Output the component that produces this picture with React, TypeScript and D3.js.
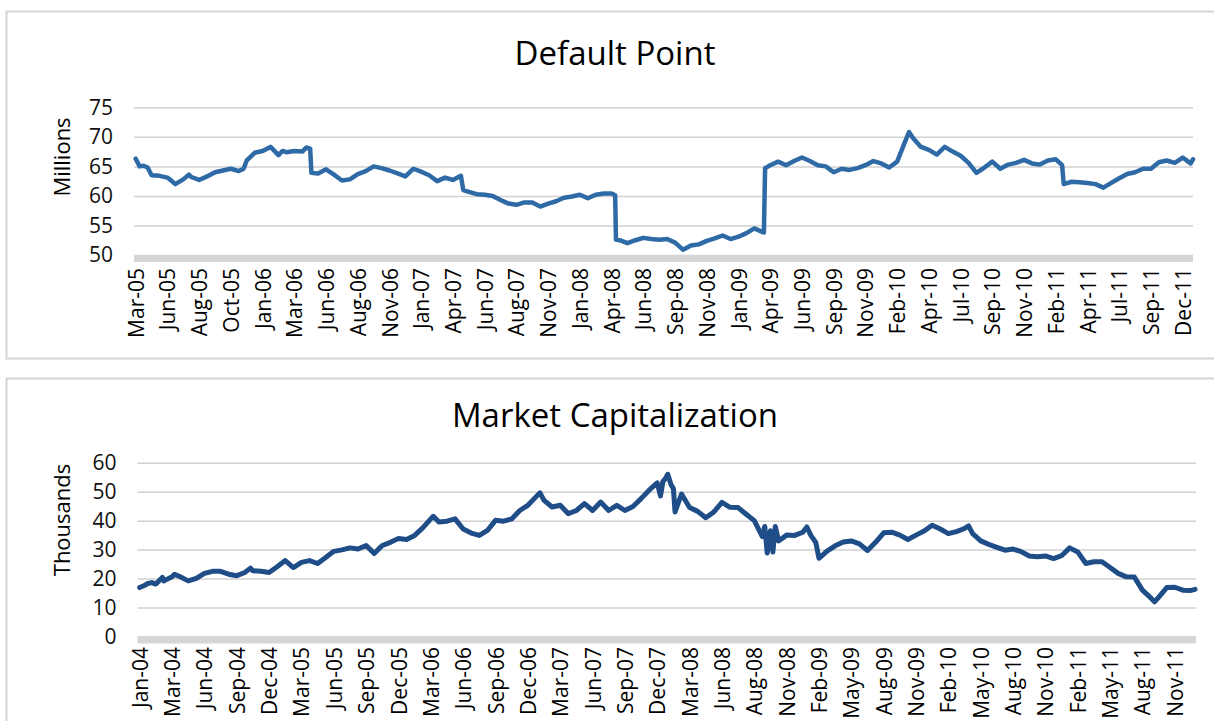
import React, { useEffect, useRef } from 'react';
import * as d3 from 'd3';

const W = 1214, H = 721;
const FONT = '"Open Sans", "Noto Sans", sans-serif';

// x values are trading-day steps: 4 steps between two axis labels

// Default Point (millions)
const dpLabels = ['Mar-05', 'Jun-05', 'Aug-05', 'Oct-05', 'Jan-06', 'Mar-06', 'Jun-06', 'Aug-06', 'Nov-06',
  'Jan-07', 'Apr-07', 'Jun-07', 'Aug-07', 'Nov-07', 'Jan-08', 'Apr-08', 'Jun-08', 'Sep-08', 'Nov-08',
  'Jan-09', 'Apr-09', 'Jun-09', 'Sep-09', 'Nov-09', 'Feb-10', 'Apr-10', 'Jul-10', 'Sep-10', 'Nov-10',
  'Feb-11', 'Apr-11', 'Jul-11', 'Sep-11', 'Dec-11'];
const dpTicks = [50, 55, 60, 65, 70, 75];
const dpSeries: [number, number][] = [
  [0, 66.3], [0.5, 65.0], [1, 65.1], [1.5, 64.8], [2, 63.5], [3, 63.4], [4, 63.1], [5, 62.0], [6, 62.8],
  [6.7, 63.6], [7, 63.2], [8, 62.7], [9, 63.3], [10, 64.0], [11, 64.3], [12, 64.6], [13, 64.2], [13.6, 64.6],
  [14, 66.0], [15, 67.3], [16, 67.6], [17, 68.3], [18, 66.9], [18.5, 67.6], [19, 67.4], [20, 67.6], [21, 67.5],
  [21.5, 68.2], [22, 68.0], [22.15, 63.9], [23, 63.8], [24, 64.5], [25, 63.6], [26, 62.6], [27, 62.8], [28, 63.7],
  [29, 64.2], [30, 65.0], [31, 64.7], [32, 64.3], [33, 63.8], [34, 63.3], [35, 64.6], [36, 64.1], [37, 63.5],
  [38, 62.5], [39, 63.1], [40, 62.7], [41, 63.4], [41.3, 61.0], [42, 60.7], [43, 60.3], [44, 60.2], [45, 60.0],
  [46, 59.3], [47, 58.7], [48, 58.5], [49, 58.9], [50, 58.9], [51, 58.2], [52, 58.7], [53, 59.1], [54, 59.7],
  [55, 59.9], [56, 60.2], [57, 59.6], [58, 60.2], [59, 60.4], [60, 60.4], [60.45, 60.1], [60.55, 52.6],
  [61, 52.5], [62, 52.0], [63, 52.5], [64, 52.9], [65, 52.7], [66, 52.6], [67, 52.7], [68, 52.1], [69, 50.9],
  [70, 51.6], [71, 51.8], [72, 52.4], [73, 52.8], [74, 53.3], [75, 52.7], [76, 53.1], [77, 53.7], [78, 54.5],
  [79, 53.9], [79.2, 53.8], [79.35, 64.7], [80, 65.2], [81, 65.8], [82, 65.2], [83, 65.9], [84, 66.5], [85, 65.9],
  [86, 65.2], [87, 65.0], [88, 64.0], [89, 64.6], [90, 64.4], [91, 64.7], [92, 65.2], [93, 65.9], [94, 65.5],
  [95, 64.8], [96, 65.8], [97, 69.2], [97.5, 70.8], [98, 69.8], [99, 68.3], [100, 67.8], [101, 67.0], [102, 68.3],
  [103, 67.5], [104, 66.8], [105, 65.6], [106, 63.9], [107, 64.8], [108, 65.8], [109, 64.6], [110, 65.3],
  [111, 65.6], [112, 66.1], [113, 65.5], [114, 65.3], [115, 66.0], [116, 66.2], [116.8, 65.2], [117, 62.0],
  [118, 62.4], [119, 62.3], [120, 62.2], [121, 62.0], [122, 61.4], [123, 62.2], [124, 63.0], [125, 63.7],
  [126, 64.0], [127, 64.6], [128, 64.6], [129, 65.7], [130, 66.0], [131, 65.6], [132, 66.5], [133, 65.5],
  [133.3, 66.2],
];

// Market Capitalization (thousands)
const mcLabels = ['Jan-04', 'Mar-04', 'Jun-04', 'Sep-04', 'Dec-04', 'Mar-05', 'Jun-05', 'Sep-05', 'Dec-05',
  'Mar-06', 'Jun-06', 'Sep-06', 'Dec-06', 'Mar-07', 'Jun-07', 'Sep-07', 'Dec-07', 'Mar-08', 'Jun-08',
  'Aug-08', 'Nov-08', 'Feb-09', 'May-09', 'Aug-09', 'Nov-09', 'Feb-10', 'May-10', 'Aug-10', 'Nov-10',
  'Feb-11', 'May-11', 'Aug-11', 'Nov-11'];
const mcTicks = [0, 10, 20, 30, 40, 50, 60];
const mcSeries: [number, number][] = [
  [0, 16.9], [0.5, 17.5], [1, 18.3], [1.5, 18.6], [2, 18.1], [2.8, 20.4], [3, 19.2], [4, 20.6], [4.3, 21.5],
  [5, 20.6], [6, 19.2], [7, 20.1], [8, 21.8], [9, 22.5], [10, 22.5], [11, 21.5], [12, 21.0], [13, 22.1],
  [13.7, 23.6], [14, 22.7], [15, 22.5], [16, 22.1], [17, 24.1], [18, 26.2], [19, 23.8], [20, 25.6], [21, 26.2],
  [22, 25.2], [23, 27.3], [24, 29.4], [25, 29.9], [26, 30.6], [27, 30.2], [28, 31.4], [29, 28.7], [30, 31.4],
  [31, 32.5], [32, 33.8], [33, 33.5], [34, 34.9], [35, 37.5], [36, 40.6], [36.3, 41.5], [37, 39.5], [38, 39.8],
  [39, 40.6], [40, 37.1], [41, 35.7], [42, 34.9], [43, 36.6], [44, 40.1], [45, 39.8], [46, 40.6], [47, 43.5],
  [48, 45.3], [49, 48.2], [49.5, 49.6], [50, 47.0], [51, 44.7], [52, 45.3], [53, 42.4], [54, 43.5], [55, 45.9],
  [56, 43.5], [57, 46.4], [58, 43.5], [59, 45.3], [60, 43.5], [61, 44.9], [62, 47.6], [63, 50.5], [64, 53.0],
  [64.4, 48.5], [64.7, 53.5], [65, 54.5], [65.3, 56.0], [65.7, 52.5], [66, 51.0], [66.2, 43.0], [67, 49.2],
  [68, 44.5], [69, 43.2], [70, 41.0], [71, 43.0], [72, 46.3], [73, 44.6], [74, 44.5], [75, 42.2], [76, 40.0],
  [77, 34.5], [77.3, 38.0], [77.6, 28.8], [78, 36.5], [78.3, 29.2], [78.6, 38.0], [79, 33.0], [80, 35.0],
  [81, 34.9], [82, 36.0], [82.5, 37.8], [83, 34.9], [83.6, 32.5], [84, 27.0], [85, 29.5], [86, 31.3], [87, 32.6],
  [88, 33.0], [89, 32.0], [90, 29.7], [91, 32.5], [92, 35.8], [93, 36.0], [94, 35.0], [95, 33.5], [96, 35.0],
  [97, 36.4], [98, 38.4], [99, 37.1], [100, 35.5], [101, 36.2], [102, 37.3], [102.5, 38.2], [103, 35.5],
  [104, 33.0], [105, 31.8], [106, 30.8], [107, 29.8], [108, 30.2], [109, 29.3], [110, 27.8], [111, 27.5],
  [112, 27.8], [113, 26.9], [114, 27.9], [115, 30.6], [116, 29.2], [117, 25.2], [118, 25.8], [119, 25.8],
  [120, 23.8], [121, 21.8], [122, 20.6], [123, 20.5], [124, 16.0], [125, 13.4], [125.5, 12.0], [126, 13.5],
  [127, 16.9], [128, 17.0], [129, 16.0], [130, 15.9], [130.5, 16.3],
];

type Cfg = {
  title: string; yLabel: string; labels: string[]; ticks: number[]; series: [number, number][];
  frameTop: number; frameH: number; titleY: number; yLabelY: number;
  x0: number; x1: number; gx0: number; gx1: number; yTop: number; yBottom: number; labelTop: number;
  color: string; lineW: number;
};

function drawChart(svg: d3.Selection<SVGSVGElement, unknown, null, undefined>, c: Cfg) {
  const g = svg.append('g');
  const lastX = c.series[c.series.length - 1][0];
  const x = d3.scaleLinear().domain([0, lastX]).range([c.x0, c.x1]);
  const y = d3.scaleLinear().domain(d3.extent(c.ticks) as [number, number]).range([c.yBottom, c.yTop]);

  // panel frame
  g.append('rect')
    .attr('x', 6.5).attr('y', c.frameTop + 0.5)
    .attr('width', W + 20).attr('height', c.frameH)
    .attr('fill', '#fff').attr('stroke', '#d4d4d4').attr('stroke-width', 2);

  g.append('text')
    .attr('x', 615).attr('y', c.titleY)
    .attr('text-anchor', 'middle')
    .style('font-family', FONT).style('font-size', '33px').attr('fill', '#000')
    .text(c.title);

  g.append('text')
    .attr('transform', `translate(62,${c.yLabelY}) rotate(-90)`)
    .attr('text-anchor', 'middle').attr('dy', '0.35em')
    .style('font-family', FONT).style('font-size', '22px').attr('fill', '#000')
    .text(c.yLabel);

  // y axis with gridlines
  const yAxis = g.append('g')
    .attr('transform', `translate(${c.gx0},0)`)
    .call(d3.axisLeft(y).tickValues(c.ticks).tickSizeInner(-(c.gx1 - c.gx0)).tickSizeOuter(0).tickPadding(21));
  yAxis.select('.domain').remove();
  yAxis.selectAll('line').attr('stroke', '#d0d0d0').attr('stroke-width', 1.5);
  yAxis.selectAll('text')
    .style('font-family', FONT).style('font-size', '21px').attr('fill', '#111');

  // floor bar under the plot
  g.append('rect')
    .attr('x', c.gx0).attr('y', c.yBottom)
    .attr('width', c.gx1 - c.gx0).attr('height', 7)
    .attr('fill', '#d6d6d6');

  // x labels
  const xAxis = g.append('g')
    .attr('transform', `translate(0,${c.labelTop})`)
    .call(d3.axisBottom(x).tickValues(c.labels.map((_, i) => i * 4))
      .tickFormat((_, i) => c.labels[i]).tickSize(0));
  xAxis.select('.domain').remove();
  xAxis.selectAll('text')
    .attr('x', 0).attr('y', 0).attr('dy', '0.36em')
    .attr('transform', 'rotate(-90)')
    .attr('text-anchor', 'end')
    .style('font-family', FONT).style('font-size', '21px').style('font-weight', 500).attr('fill', '#000');

  const line = d3.line<[number, number]>()
    .x(d => x(d[0]))
    .y(d => y(d[1]));

  g.append('path')
    .datum(c.series)
    .attr('d', line)
    .attr('fill', 'none')
    .attr('stroke', c.color)
    .attr('stroke-width', c.lineW)
    .attr('stroke-linejoin', 'round')
    .attr('stroke-linecap', 'round');
}

export default function App() {
  const ref = useRef<SVGSVGElement>(null);

  useEffect(() => {
    const svg = d3.select(ref.current!);
    svg.selectAll('*').remove();
    drawChart(svg, {
      title: 'Default Point', yLabel: 'Millions', labels: dpLabels, ticks: dpTicks, series: dpSeries,
      frameTop: 11, frameH: 347, titleY: 65, yLabelY: 157,
      x0: 135.7, x1: 1193, gx0: 134, gx1: 1193, yTop: 107.3, yBottom: 255, labelTop: 268,
      color: '#2d6aa6', lineW: 4.5,
    });
    drawChart(svg, {
      title: 'Market Capitalization', yLabel: 'Thousands', labels: mcLabels, ticks: mcTicks, series: mcSeries,
      frameTop: 378, frameH: 400, titleY: 427, yLabelY: 520,
      x0: 139.7, x1: 1195, gx0: 137.5, gx1: 1196, yTop: 462.7, yBottom: 636.5, labelTop: 647,
      color: '#1f4d88', lineW: 5,
    });
  }, []);

  return (
    <svg ref={ref} width={W} height={H}
      style={{ position: 'absolute', left: 0, top: 0, background: '#fff' }} />
  );
}
